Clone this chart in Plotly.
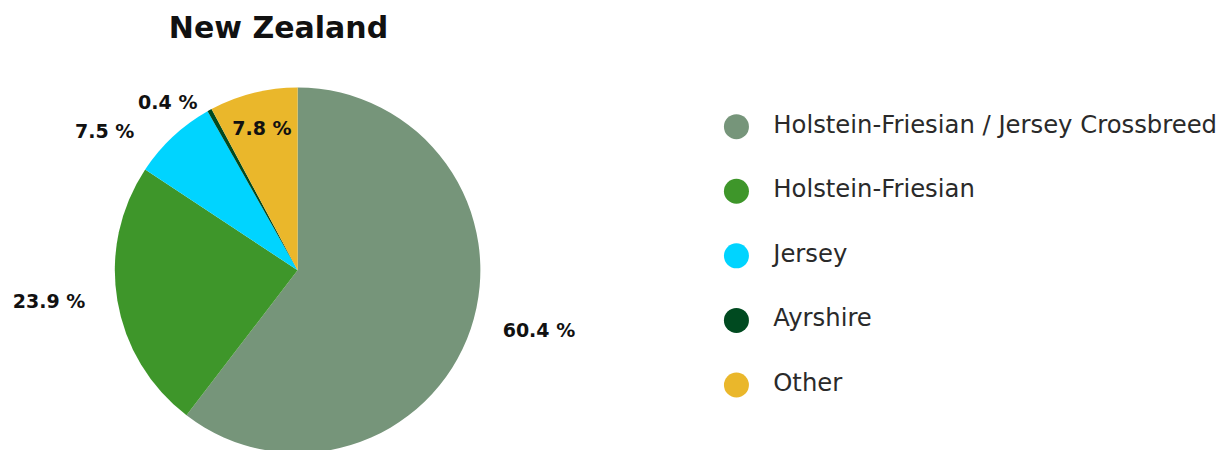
import plotly.graph_objects as go

breeds = ["Holstein-Friesian / Jersey Crossbreed", "Holstein-Friesian", "Jersey", "Ayrshire", "Other"]
shares = [60.4, 23.9, 7.5, 0.4, 7.8]
colors = ["#76957A", "#3E962A", "#00D4FF", "#004A20", "#EAB72B"]
label_pos = ["outside", "outside", "outside", "outside", "inside"]
# extra spacing (non-breaking spaces) between pie edge and outside labels: (left pad, right pad)
label_pad = [(4, 0), (0, 4), (0, 5), (0, 1), (0, 0)]

W, H = 1222, 450
n = len(breeds)
NB = "\u00a0"
templates = [NB * l + "%{value:.1f} %" + NB * r for l, r in label_pad]

fig = go.Figure()
# pie
fig.add_trace(go.Pie(
    labels=breeds, values=shares, sort=False, direction="clockwise", rotation=0,
    marker=dict(colors=colors, line=dict(width=0)),
    texttemplate=templates, textposition=label_pos,
    textfont=dict(family="DejaVu Sans", size=19, color="#111111", weight="bold"),
    insidetextorientation="horizontal",
    showlegend=False, hoverinfo="label+value",
    domain=dict(x=[101 / W, 469 / W], y=[2 / H, 370 / H]),
))
# legend (circles + labels) drawn as a category scatter
fig.add_trace(go.Scatter(
    x=[0] * n, y=breeds, mode="markers",
    marker=dict(color=colors, size=25, symbol="circle", line=dict(width=0)),
    showlegend=False, hoverinfo="skip", cliponaxis=False,
))
fig.add_trace(go.Scatter(
    x=[1] * n, y=breeds, mode="text", text=breeds, textposition="middle right",
    textfont=dict(family="DejaVu Sans", size=24.3, color="#2a2a2a"),
    showlegend=False, hoverinfo="skip", cliponaxis=False,
))

fig.update_layout(
    width=W, height=H, margin=dict(l=0, r=0, t=0, b=0),
    paper_bgcolor="white", plot_bgcolor="white",
    title=dict(text="<b>New Zealand</b>", x=270.5 / W, xanchor="center", y=1 - 19 / H, yanchor="middle",
               font=dict(family="DejaVu Sans", size=30, color="#111111")),
    xaxis=dict(visible=False, domain=[726 / W, 763 / W], range=[0, 1], fixedrange=True),
    yaxis=dict(visible=False, domain=[1 - 412 / H, 1 - 87 / H], type="category",
               range=[n - 0.5, -0.5], fixedrange=True),
)
fig.write_html("out.html")
